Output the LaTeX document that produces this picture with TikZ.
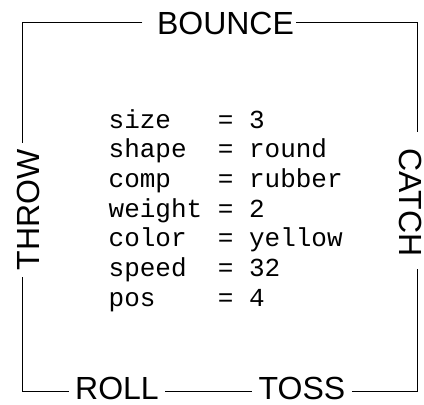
\documentclass[tikz,border=0pt]{standalone}
\usepackage{fontspec}
\setmainfont{Liberation Sans}
\newfontfamily\codefont{Liberation Mono}
\usepackage{tikz}

\begin{document}
\begin{tikzpicture}[x=0.75pt, y=-0.75pt, line width=1pt,
	action/.style={font=\fontsize{24}{28}\selectfont, inner sep=0pt, outer sep=5pt}]
	\useasboundingbox (0,0) rectangle (424,404);
	% corners of the frame
	\coordinate (nw) at (22.7,22.7);
	\coordinate (ne) at (417.5,22.7);
	\coordinate (sw) at (22.7,391.5);
	\coordinate (se) at (417.5,391.5);
	\node[action] (bounce) at (225.5,23.3) {BOUNCE};
	\node[action, rotate=90] (throw) at (28.5,210) {THROW};
	\node[action, rotate=-90] (catch) at (410.5,202.5) {CATCH};
	\node[action] (roll) at (117,388) {ROLL};
	\node[action] (toss) at (302,388) {TOSS};
	\node[anchor=base west, inner sep=0pt, font=\codefont\fontsize{19.5}{22.3}\selectfont] (props) at (108,128) {%
		\begin{tabular}[t]{@{}l@{~}l@{}}
			size & = 3\\
			shape & = round\\
			comp & = rubber\\
			weight & = 2\\
			color & = yellow\\
			speed & = 32\\
			pos & = 4
		\end{tabular}};
	\draw[shorten <=6pt] (nw -| bounce.west) -- (nw) -- (nw |- throw.east);
	\draw (throw.west -| sw) -- (sw) -- (sw -| roll.west);
	\draw (sw -| roll.east) -- (sw -| toss.west);
	\draw[shorten >=4.5pt] (sw -| toss.east) -- (se) -- (se |- catch.east);
	\draw[shorten <=7.5pt, shorten >=-3.4pt] (se |- catch.west) -- (ne) -- (ne -| bounce.east);
\end{tikzpicture}
\end{document}
